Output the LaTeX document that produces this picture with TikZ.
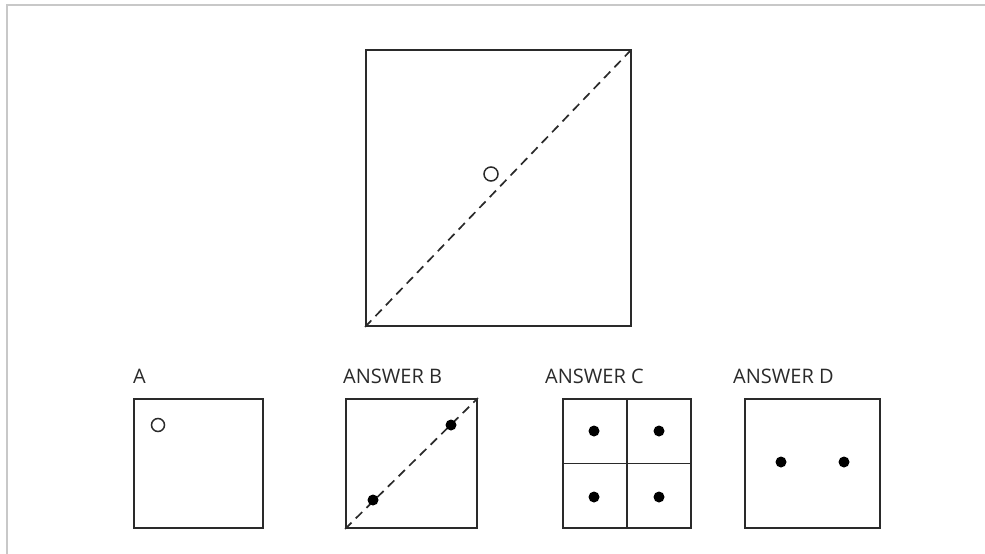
\documentclass[tikz,border=0pt]{standalone}
\usepackage{fontspec}
\setmainfont{Open Sans}
\usetikzlibrary{positioning}
\definecolor{ink}{HTML}{2A2A2A}
\definecolor{frame}{HTML}{C8C8C8}

\begin{document}
\begin{tikzpicture}[x=1pt,y=-1pt,
  panel/.style={draw=ink,line width=1.8pt,inner sep=0pt,minimum height=129pt},
  fold/.style={ink,line width=1.7pt,dash pattern=on 9pt off 6pt},
  hole/.style={draw=ink,line width=1.5pt,fill=white},
  dot/.style={fill=black},
  tag/.style={font=\fontsize{20}{20}\selectfont,text=ink,anchor=base west,inner sep=0pt}]
\useasboundingbox (0,0) rectangle (985,554);
% page frame
\draw[frame,line width=1.5pt] (7,554)--(7,5)--(985,5);
% folded sheet
\node[panel,minimum width=265pt,minimum height=276pt] (sheet) at (498.5,188){};
\draw[fold] (sheet.south west)--(sheet.north east);
\draw[hole] (491,174) circle (7);
% choices
\node[panel,minimum width=129pt] (boxA) at (198.5,463.5){};
\node[panel,minimum width=131pt] (boxB) at (411.5,463.5){};
\node[panel,minimum width=128pt] (boxC) at (627,463.5){};
\node[panel,minimum width=135pt] (boxD) at (812.5,463.5){};
\node[tag] (labA) at (133,383){A};
\node[tag] (labB) at (343,383){ANSWER B};
\node[tag] (labC) at (545,383){ANSWER C};
\node[tag] (labD) at (733,383){ANSWER D};
\draw[hole] (158,425) circle (6.5);
\draw[fold] (boxB.south west)--(boxB.north east);
\foreach \p in {(373,500),(451,425)}{\fill[dot] \p circle (5.5);}
\draw[ink,line width=1.6pt] (boxC.north)--(boxC.south) (boxC.west)--(boxC.east);
\foreach \x in {594,659}{\foreach \y in {431,497}{\fill[dot] (\x,\y) circle (5.5);}}
\foreach \x in {781,844}{\fill[dot] (\x,462) circle (5.5);}
\end{tikzpicture}
\end{document}
